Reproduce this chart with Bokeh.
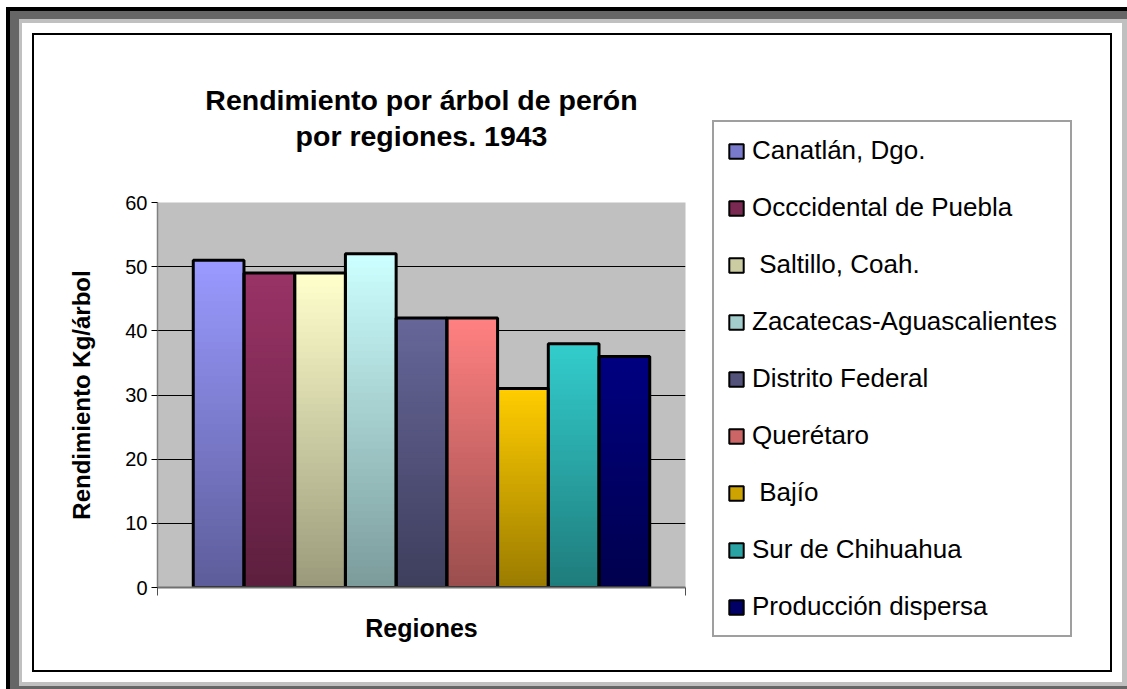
import numpy as np
from bokeh.plotting import figure
from bokeh.layouts import row
from bokeh.models import (Range1d, FixedTicker, Legend, LegendItem, ColumnDataSource, Title)
from bokeh.core.properties import value
from bokeh.embed import file_html
from bokeh.resources import INLINE

# ---------------- data ----------------
regions = ["Canatlán, Dgo.", "Occcidental de Puebla", " Saltillo, Coah.",
           "Zacatecas-Aguascalientes", "Distrito Federal", "Querétaro", " Bajío",
           "Sur de Chihuahua", "Producción dispersa"]
rendimiento = [51, 49, 49, 52, 42, 42, 31, 38, 36]
colores = ["#9999FF", "#993366", "#FFFFCC", "#CCFFFF", "#666699",
           "#FF8080", "#FFCC00", "#33CCCC", "#000080"]
y_ticks = [0, 10, 20, 30, 40, 50, 60]
titulo = ["Rendimiento por árbol de perón", "por regiones. 1943"]
y_label = "Rendimiento Kg/árbol"
x_label = "Regiones"

FONT = "Liberation Sans"


def shade(hexcol, f):
    h = hexcol.lstrip("#")
    r, g, b = (int(h[i:i + 2], 16) for i in (0, 2, 4))
    return "#%02x%02x%02x" % (round(r * f), round(g * f), round(b * f))


n = len(regions)
xs = [i + 0.5 for i in range(n)]
pad = 0.705

# whole picture inside the inner black border: page coords 34..1110, 35..670
OX, OY = 34, 35
H = 635
SPLIT = 700                      # page x where chart figure ends and legend figure begins
PW = SPLIT - OX
LW = 1110 - SPLIT
FL, FR, FT, FB = 157 - OX, 685 - OX, 202 - OY, 587 - OY  # frame edges in chart-figure px

p = figure(width=PW, height=H, output_backend="svg", toolbar_location=None,
           x_range=Range1d(-pad, n + pad), y_range=Range1d(0, 60),
           min_border_left=FL, min_border_right=PW - FR,
           min_border_top=FT, min_border_bottom=H - FB,
           background_fill_color="#C0C0C0", border_fill_color="white",
           outline_line_color=None)

# title (two lines)
p.title.visible = False
t2 = Title(text=titulo[1], align="center", text_font=FONT, text_font_size="28.5px",
           text_font_style="bold", text_color="black", standoff=0,
           padding=dict(left=0, right=0, top=0, bottom=51))
t1 = Title(text=titulo[0], align="center", text_font=FONT, text_font_size="28.5px",
           text_font_style="bold", text_color="black", standoff=0,
           padding=dict(left=0, right=0, top=0, bottom=2))
p.add_layout(t2, "above")
p.add_layout(t1, "above")

# axes
p.yaxis.ticker = FixedTicker(ticks=y_ticks)
p.yaxis.axis_line_color = "#808080"
p.yaxis.axis_line_width = 1.5
p.yaxis.major_tick_out = 6
p.yaxis.major_tick_in = 0
p.yaxis.major_tick_line_color = "black"
p.yaxis.minor_tick_line_color = None
p.yaxis.major_label_text_font = FONT
p.yaxis.major_label_text_font_size = "20px"
p.yaxis.major_label_text_color = "black"
p.yaxis.major_label_standoff = 4
p.yaxis.axis_label = y_label
p.yaxis.axis_label_text_font = FONT
p.yaxis.axis_label_text_font_size = "24px"
p.yaxis.axis_label_text_font_style = "bold"
p.yaxis.axis_label_text_color = "black"
p.yaxis.axis_label_standoff = 27

p.xaxis.ticker = FixedTicker(ticks=[-pad, n + pad])
p.xaxis.axis_line_color = "#707070"
p.xaxis.axis_line_width = 2
p.xaxis.major_tick_out = 8
p.xaxis.major_tick_in = 0
p.xaxis.major_tick_line_color = "#505050"
p.xaxis.minor_tick_line_color = None
p.xaxis.major_label_text_color = None
p.xaxis.major_label_text_font_size = "10px"
p.xaxis.axis_label = x_label
p.xaxis.axis_label_text_font = FONT
p.xaxis.axis_label_text_font_size = "25px"
p.xaxis.axis_label_text_font_style = "bold"
p.xaxis.axis_label_text_color = "black"
p.xaxis.axis_label_standoff = 18

p.xgrid.visible = False
p.ygrid.ticker = FixedTicker(ticks=y_ticks)
p.ygrid.grid_line_color = "black"
p.ygrid.grid_line_width = 1

# gradient bars: overlapping slices from light (top) to dark (bottom)
N = 48
for k in range(N, 0, -1):
    f = k / N
    src = ColumnDataSource(dict(x=xs, top=[v * f for v in rendimiento],
                                fill=[shade(c, 0.6 + 0.4 * f) for c in colores]))
    p.vbar(x="x", top="top", width=1, source=src, fill_color="fill", line_color=None)

p.vbar(x=xs, top=rendimiento, width=1, fill_color=None, line_color="black", line_width=3)

# legend figure (legend drawn in its own canvas to the right of the chart);
# its swatch renderer lies entirely beneath the opaque legend box
lf = figure(width=LW, height=H, output_backend="svg", toolbar_location=None,
            x_range=Range1d(-1, 12), y_range=Range1d(-10, 70),
            x_axis_location=None, y_axis_location=None,
            min_border_left=0, min_border_right=0, min_border_top=0, min_border_bottom=0,
            background_fill_color="white", border_fill_color="white",
            outline_line_color=None)
lf.grid.visible = False
lf.title.visible = False
for fig in (p, lf):
    try:
        fig.frame_align = False
    except AttributeError:
        pass

sw_src = ColumnDataSource(dict(x=xs, top=rendimiento,
                               fill=[shade(c, 0.8) for c in colores]))
swatch = lf.vbar(x="x", top="top", width=1, source=sw_src, fill_color="fill",
                 line_color="black", line_width=2)
items = [LegendItem(label=value(r), renderers=[swatch], index=i) for i, r in enumerate(regions)]
legend = Legend(items=items, location=(12, 33), orientation="vertical",
                border_line_color="#404040", border_line_width=2,
                background_fill_color="white", background_fill_alpha=1,
                padding=13, margin=0, spacing=26, glyph_width=18, glyph_height=18,
                label_height=31, label_standoff=7, label_text_font=FONT,
                label_text_font_size="26px", label_text_color="black")
lf.add_layout(legend)

layout = row(p, lf)
layout.margin = (OY, 0, 0, OX)
# picture frame: inner border (outline) and bevelled outer bands (shadows)
layout.styles = {
    "outline": "2px solid #000000",
    "box-shadow": "0 0 0 12px #FFFFFF, 1px 0 0 16px #C0C0C0, "
                  "0 0 0 24px #666666, 0 0 0 28px #000000",
}

open("out.html", "w").write(file_html(layout, INLINE))
